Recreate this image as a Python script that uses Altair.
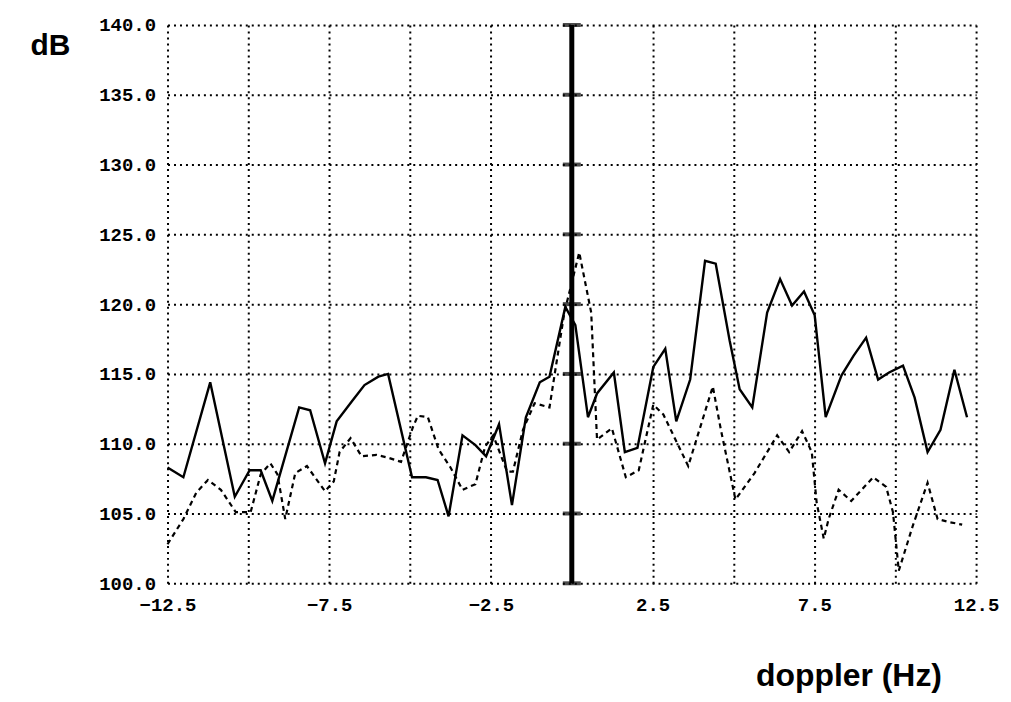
import altair as alt
import pandas as pd

# ---- data ----
solid_hz = [-12.5, -12.01, -11.18, -10.42, -9.96, -9.62, -9.26, -8.43, -8.09, -7.63, -7.27,
            -6.81, -6.41, -5.98, -5.68, -4.94, -4.51, -4.15, -3.81, -3.38, -2.98, -2.65,
            -2.25, -1.85, -1.42, -0.99, -0.69, -0.20, 0.11, 0.50, 0.78, 1.30, 1.64, 2.03,
            2.52, 2.89, 3.23, 3.66, 4.12, 4.45, 4.88, 5.19, 5.58, 6.04, 6.44, 6.81, 7.18,
            7.51, 7.85, 8.34, 8.71, 9.10, 9.47, 9.81, 10.24, 10.60, 11.00, 11.40, 11.83, 12.22]
solid_db = [108.3, 107.6, 114.4, 106.2, 108.1, 108.1, 105.9, 112.6, 112.4, 108.6, 111.6,
            113.0, 114.2, 114.8, 115.0, 107.6, 107.6, 107.4, 104.8, 110.6, 109.9, 109.1,
            111.4, 105.6, 111.9, 114.4, 114.8, 119.8, 118.5, 111.9, 113.6, 115.1, 109.4, 109.7,
            115.5, 116.8, 111.6, 114.6, 123.1, 122.9, 117.4, 113.9, 112.6, 119.4, 121.8, 119.9, 120.9,
            119.2, 111.9, 114.9, 116.3, 117.6, 114.6, 115.1, 115.6, 113.3, 109.4, 111.0, 115.3, 111.9]

dashed_hz = [-12.5, -12.01, -11.61, -11.25, -10.85, -10.39, -9.93, -9.62, -9.32, -9.10, -8.86,
             -8.55, -8.19, -7.63, -7.36, -7.18, -6.84, -6.50, -6.04, -5.68, -5.28, -4.91, -4.76,
             -4.45, -4.12, -3.75, -3.38, -2.98, -2.68, -2.43, -2.00, -1.82, -1.51, -1.15, -0.69,
             -0.23, 0.23, 0.60, 0.78, 1.24, 1.67, 2.07, 2.52, 2.83, 3.60, 4.36, 4.61, 5.06, 5.65,
             6.04, 6.35, 6.72, 7.12, 7.42, 7.57, 7.79, 7.94, 8.25, 8.64, 9.32, 9.72, 9.93, 10.11,
             10.54, 11.00, 11.31, 11.64, 12.07]
dashed_db = [102.8, 104.6, 106.5, 107.4, 106.7, 105.1, 105.1, 107.8, 108.6, 107.8, 104.6,
             107.9, 108.4, 106.6, 107.3, 109.4, 110.4, 109.1, 109.2, 109.0, 108.7, 111.2, 112.0,
             111.9, 109.6, 108.3, 106.7, 107.1, 109.8, 110.6, 108.0, 108.0, 111.0, 112.9, 112.6,
             119.4, 123.7, 119.4, 110.3, 111.1, 107.6, 108.1, 112.8, 112.1, 108.4, 114.1, 111.0, 106.0, 107.9,
             109.4, 110.6, 109.4, 110.9, 109.4, 105.8, 103.2, 104.6, 106.7, 105.9, 107.6, 106.9, 105.1, 100.9,
             104.1, 107.2, 104.6, 104.4, 104.2]

x_ticks = [-12.5, -10.0, -7.5, -5.0, -2.5, 0.0, 2.5, 5.0, 7.5, 10.0, 12.5]
y_ticks = [100.0, 105.0, 110.0, 115.0, 120.0, 125.0, 130.0, 135.0, 140.0]
axis_hz = [0.0, 0.0]
axis_db = [100.0, 140.0]

solid_df = pd.DataFrame({"hz": solid_hz, "db": solid_db})
dashed_df = pd.DataFrame({"hz": dashed_hz, "db": dashed_db})
ticks_df = pd.DataFrame({"hz": [0.0] * len(y_ticks), "db": y_ticks})
axis_df = pd.DataFrame({"hz": [axis_hz[0]], "db": [axis_db[0]], "db2": [axis_db[1]]})

label_font = "Liberation Mono"
title_font = "Liberation Sans"

x_enc = alt.X(
    "hz:Q",
    scale=alt.Scale(domain=[-12.5, 12.5], nice=False, zero=False),
    axis=alt.Axis(
        values=x_ticks,
        labelExpr="(datum.value + 12.5) % 5 == 0 ? format(datum.value, '.1f') : ''",
        title="doppler (Hz)",
        titleX=683, titleY=103, titleAlign="center", titleBaseline="alphabetic",
        titleFont=title_font, titleFontSize=32, titleFontWeight="bold", titleColor="black",
        labelFont=label_font, labelFontSize=19, labelFontWeight="bold", labelColor="black",
        labelPadding=12, labelFlush=False, labelOverlap=False,
        grid=True, gridColor="black", gridDash=[2, 4], gridWidth=2, gridOpacity=1,
        domain=False, ticks=False,
    ),
)
y_enc = alt.Y(
    "db:Q",
    scale=alt.Scale(domain=[100, 140], nice=False, zero=False),
    axis=alt.Axis(
        values=y_ticks, format=".1f",
        title="dB", titleAngle=0, titleX=-118, titleY=21, titleAlign="center",
        titleBaseline="middle",
        titleFont=title_font, titleFontSize=30, titleFontWeight="bold", titleColor="black",
        labelFont=label_font, labelFontSize=19, labelFontWeight="bold", labelColor="black",
        labelPadding=12, labelOverlap=False,
        grid=True, gridColor="black", gridDash=[2, 4], gridWidth=2, gridOpacity=1,
        domain=False, ticks=False,
    ),
)

solid = alt.Chart(solid_df).mark_line(color="black", strokeWidth=2.4).encode(x=x_enc, y=y_enc)
dashed = alt.Chart(dashed_df).mark_line(color="black", strokeWidth=2.2, strokeDash=[5, 4]).encode(
    x="hz:Q", y="db:Q")
zero_rule = alt.Chart(axis_df).mark_rule(color="black", strokeWidth=5).encode(
    x="hz:Q", y="db:Q", y2="db2:Q")
zero_ticks = alt.Chart(ticks_df).mark_tick(color="black", orient="horizontal", size=18,
                                           thickness=4).encode(x="hz:Q", y="db:Q")

chart = alt.layer(solid, dashed, zero_rule, zero_ticks).properties(
    width=811, height=560,
    autosize=alt.AutoSizeParams(type="none"),
    padding={"left": 160, "top": 16, "right": 27, "bottom": 110},
    background="white",
).configure_view(stroke=None)

chart.save("out.html", embed_options={"renderer": "svg", "actions": False})
